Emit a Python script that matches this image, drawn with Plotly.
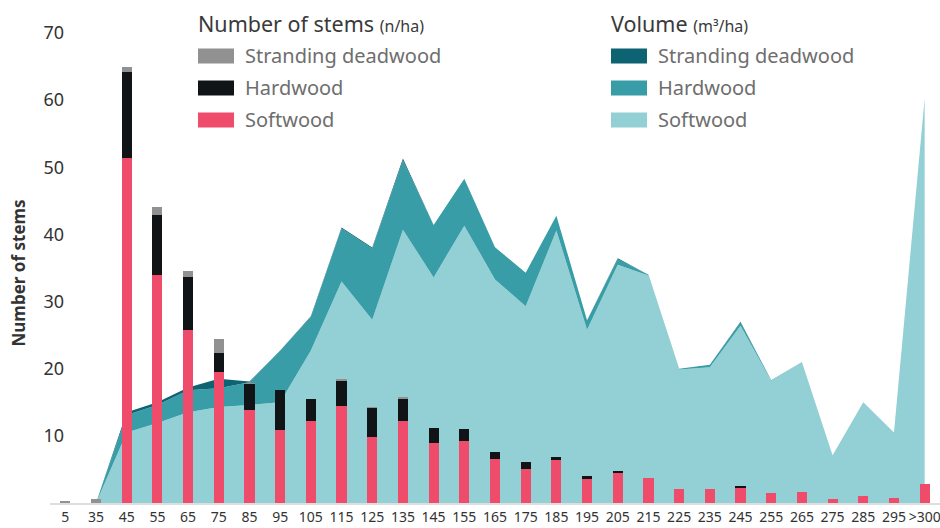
import plotly.graph_objects as go

categories = ["5", "35", "45", "55", "65", "75", "85", "95", "105", "115", "125", "135", "145",
              "155", "165", "175", "185", "195", "205", "215", "225", "235", "245", "255",
              "265", "275", "285", "295", ">300"]

# Number of stems (n/ha) - stacked bars
stems_softwood = [0, 0, 51.4, 33.9, 25.7, 19.5, 13.8, 10.9, 12.2, 14.5, 9.85, 12.2, 8.9,
                  9.2, 6.5, 5.05, 6.4, 3.6, 4.5, 3.75, 2.1, 2.1, 2.35, 1.5,
                  1.6, 0.6, 1.0, 0.7, 2.8]
stems_hardwood = [0, 0, 12.8, 9.0, 7.9, 2.9, 4.0, 5.9, 3.25, 3.75, 4.3, 3.35, 2.25,
                  1.8, 1.15, 1.05, 0.45, 0.35, 0.25, 0, 0, 0, 0.1, 0,
                  0, 0, 0, 0, 0]
stems_deadwood = [0.2, 0.6, 0.7, 1.2, 0.9, 2.0, 0.05, 0, 0, 0.08, 0.05, 0.1, 0,
                  0, 0, 0, 0, 0, 0, 0, 0, 0, 0, 0,
                  0, 0, 0, 0, 0]

# Volume (m3/ha) - stacked areas
volume_softwood = [0, 0, 10.5, 11.9, 13.5, 14.3, 14.6, 15.0, 22.7, 33.0, 27.3, 40.7, 33.6,
                   41.3, 33.3, 29.3, 40.6, 25.8, 35.5, 33.9, 19.9, 20.2, 26.4, 18.2,
                   21.0, 7.1, 15.0, 10.5, 60.3]
volume_hardwood = [0, 0, 2.6, 2.7, 3.3, 2.8, 3.4, 7.7, 5.0, 7.9, 10.6, 10.3, 7.8,
                   7.0, 4.8, 5.0, 2.2, 1.4, 0.8, 0.1, 0.1, 0.4, 0.5, 0.1,
                   0, 0, 0, 0, 0]
volume_deadwood = [0, 0, 0.4, 0.4, 0.4, 1.4, 0.1, 0, 0.1, 0.15, 0.15, 0.3, 0,
                   0, 0, 0, 0, 0, 0.15, 0, 0, 0, 0.1, 0,
                   0, 0, 0, 0, 0]

y_ticks = [10, 20, 30, 40, 50, 60, 70]

stem_legend_title = "Number of stems"
stem_legend_unit = "(n/ha)"
volume_legend_title = "Volume"
volume_legend_unit = "(m³/ha)"
legend_labels = ["Stranding deadwood", "Hardwood", "Softwood"]

C_PINK = "#EF4B6B"
C_BLACK = "#111417"
C_GRAY = "#919191"
C_DARK = "#0E6373"
C_MID = "#389DA6"
C_LIGHT = "#93D0D5"

FONT = "Noto Sans"
W, H = 940, 528
ML, MR, MT, MB = 50, 0, 33, 25
PW, PH = W - ML - MR, H - MT - MB


def px_x(px):
    return (px - ML) / PW


def px_y(py):
    return (H - MB - py) / PH


fig = go.Figure()

# Areas on the base axes (drawn below)
for name, vals, col in [("Vol softwood", volume_softwood, C_LIGHT),
                        ("Vol hardwood", volume_hardwood, C_MID),
                        ("Vol deadwood", volume_deadwood, C_DARK)]:
    fig.add_trace(go.Scatter(x=categories, y=vals, name=name, mode="lines",
                             stackgroup="vol", line=dict(width=0, color=col),
                             fillcolor=col, showlegend=False, xaxis="x", yaxis="y"))

# Bars on the overlay axes (drawn above)
for name, vals, col in [("Softwood", stems_softwood, C_PINK),
                        ("Hardwood", stems_hardwood, C_BLACK),
                        ("Stranding deadwood", stems_deadwood, C_GRAY)]:
    fig.add_trace(go.Bar(x=categories, y=vals, name=name, marker=dict(color=col, line=dict(width=0)),
                         width=0.33, showlegend=False, xaxis="x2", yaxis="y2"))

fig.update_layout(
    width=W, height=H,
    margin=dict(l=ML, r=MR, t=MT, b=MB),
    paper_bgcolor="white", plot_bgcolor="white",
    barmode="stack",
    font=dict(family=FONT, color="#333333"),
    showlegend=False,
    xaxis=dict(type="category", categoryorder="array", categoryarray=categories,
               range=[-0.5, len(categories) - 0.5], showgrid=False, zeroline=False,
               showline=True, linecolor="#dedede", linewidth=2, ticks="",
               tickfont=dict(size=14, color="#333333", family=FONT)),
    yaxis=dict(range=[0, 70], tickvals=y_ticks, showgrid=False, zeroline=False,
               showline=False, ticks="", ticklabelstandoff=-15,
               tickfont=dict(size=18, color="#333333", family=FONT)),
    xaxis2=dict(type="category", categoryorder="array", categoryarray=categories,
                range=[-0.5, len(categories) - 0.5], overlaying="x", visible=False),
    yaxis2=dict(range=[0, 70], overlaying="y", visible=False),
)

ann = []
shapes = []
# y-axis title
ann.append(dict(text="<b>Number of stems</b>", xref="paper", yref="paper",
                x=px_x(17.5), y=px_y(273), textangle=-90, showarrow=False,
                xanchor="center", yanchor="middle",
                font=dict(size=17, color="#333333", family=FONT)))


def legend_block(x0, title, unit, colors):
    ann.append(dict(text=f"{title} <span style='font-size:16px'>{unit}</span>",
                    xref="paper", yref="paper", x=px_x(x0 - 2), y=px_y(24),
                    xanchor="left", yanchor="middle", showarrow=False,
                    font=dict(size=21.5, color="#3a3a3a", family=FONT)))
    for lab, col, yc in zip(legend_labels, colors, [56, 88, 120]):
        shapes.append(dict(type="rect", xref="paper", yref="paper",
                           x0=px_x(x0), x1=px_x(x0 + 36), y0=px_y(yc - 7.5), y1=px_y(yc + 7.5),
                           fillcolor=col, line=dict(width=0)))
        ann.append(dict(text=lab, xref="paper", yref="paper", x=px_x(x0 + 45), y=px_y(yc - 0.5),
                        xanchor="left", yanchor="middle", showarrow=False,
                        font=dict(size=20, color="#6e6e6e", family=FONT)))


legend_block(198, stem_legend_title, stem_legend_unit, [C_GRAY, C_BLACK, C_PINK])
legend_block(611, volume_legend_title, volume_legend_unit, [C_DARK, C_MID, C_LIGHT])

fig.update_layout(annotations=ann, shapes=shapes)
fig.write_html("out.html")
